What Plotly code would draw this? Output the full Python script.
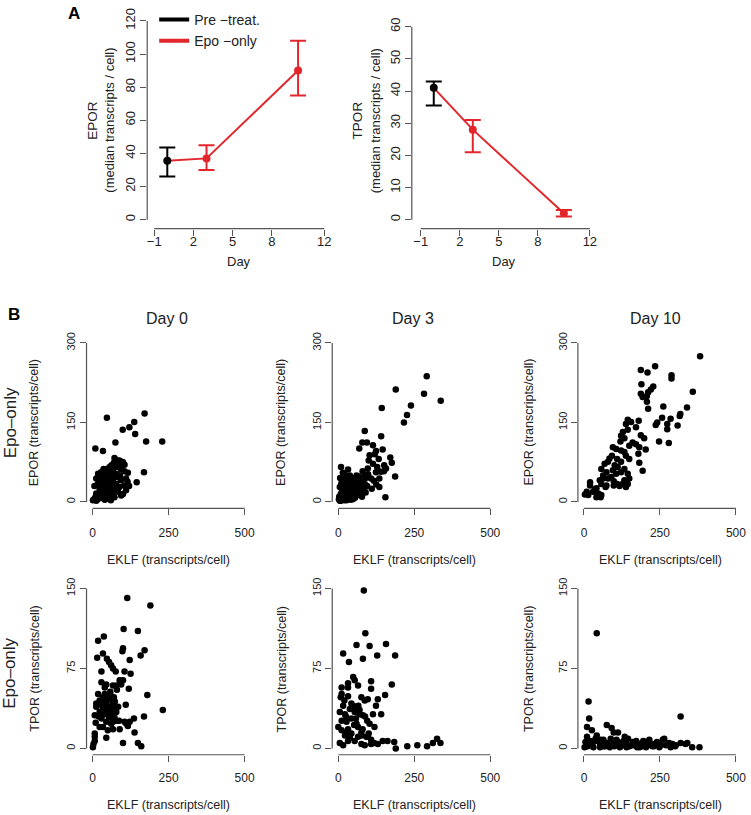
import plotly.graph_objects as go

# ---------------- Panel A data ----------------
days = [0, 3, 10]
tick_days = [-1, 2, 5, 8, 12]
epor_median = [35.5, 37, 90]
epor_low = [26, 30, 75]
epor_high = [43.5, 45, 108]
tpor_median = [41, 28, 2]
tpor_low = [35.5, 21, 1]
tpor_high = [43, 31, 3]
epor_ticks = [0, 20, 40, 60, 80, 100, 120]
tpor_ticks = [0, 10, 20, 30, 40, 50, 60]
legend_names = ["Pre \u2212treat.", "Epo \u2212only"]

# ---------------- Panel B data ----------------
day_titles = ["Day 0", "Day 3", "Day 10"]
eklf_ticks = [0, 250, 500]
epor_cell_ticks = [0, 150, 300]
tpor_cell_ticks = [0, 75, 150]

d0_eklf_epor = [47, 171, 137, 121, 99, 140, 75, 176, 229, 9, 34, 169, 145,
                72, 78, 88, 96, 100, 84, 70, 62, 92, 105, 78, 56, 48, 94, 40, 66, 105, 28, 18, 50,
                78, 116, 60, 34, 23, 83, 45, 110, 12, 66, 93, 28, 55, 17, 77, 104, 40, 6, 88, 50,
                23, 66, 110, 34, 83, 12, 55, 45, 23, 72, 94, 6, 28, 50, 17, 40, 1, 60, 100, 12,
                35, 58, 42, 52, 30, 62, 70, 48, 38, 25, 65, 80, 90, 115, 120, 10, 20, 58, 44, 36]
d0_epor = [159, 167, 151, 141, 136, 128, 112, 114, 114, 101, 96, 56, 37,
           83, 79, 78, 76, 75, 72, 74, 69, 69, 70, 66, 66, 62, 61, 59, 59, 58, 56, 53, 53,
           53, 55, 50, 49, 47, 47, 44, 44, 44, 41, 41, 37, 36, 34, 34, 31, 28, 30, 28, 25,
           25, 22, 22, 19, 19, 16, 14, 12, 9, 9, 12, 6, 8, 6, 5, 4, 3, 3, 15, 2,
           42, 45, 52, 40, 30, 32, 45, 20, 14, 18, 12, 25, 50, 38, 30, 10, 40, 58, 34, 62]

d3_eklf_epor = [291, 189, 282, 337, 143, 239, 226, 216, 87, 79, 94, 69, 141, 114, 146, 124, 171, 176,
                187, 155, 9, 32, 151, 157, 103, 133, 114, 97, 124, 135, 108, 87, 135, 60, 43, 76,
                120, 100, 128, 140, 117, 98, 110, 125, 150, 80, 90, 70, 65, 55,
                5, 10, 3, 15, 20, 8, 25, 12, 30, 18, 35, 5, 40, 22, 28, 45, 10, 38, 50, 15,
                32, 55, 42, 60, 6, 25, 48, 65, 70, 20, 38, 52, 75, 58, 80, 30, 12, 45, 62, 85,
                2, 8, 16, 27, 36, 48, 55, 68, 72, 90, 95, 50, 40, 25, 18, 33, 60, 78, 88, 15]
d3_epor = [237, 212, 204, 191, 177, 182, 164, 150, 134, 112, 112, 101, 124, 107, 99, 96, 84, 74,
           48, 9, 66, 61, 69, 63, 88, 81, 72, 63, 56, 44, 44, 34, 28, 50, 44, 31,
           90, 78, 66, 57, 40, 52, 25, 33, 58, 58, 45, 42, 36, 30,
           2, 5, 10, 8, 3, 15, 12, 20, 6, 25, 15, 28, 4, 32, 20, 10, 35, 25, 18, 40,
           36, 8, 30, 22, 45, 45, 38, 15, 28, 52, 50, 45, 20, 35, 40, 28, 10, 22, 30, 25,
           5, 2, 12, 3, 8, 5, 40, 48, 35, 18, 30, 28, 40, 36, 18, 42, 12, 10, 50, 55]

d10_eklf_epor = [382, 234, 187, 209, 288, 288, 189, 228, 220, 211, 187, 207, 358, 193, 207, 211, 339,
                 317, 315, 261, 285, 257, 241, 236, 274, 274, 308, 180, 144, 155, 138, 171, 128, 144,
                 247, 279, 187, 198, 122, 160, 171, 149, 182, 203, 133, 120, 95, 106, 122, 133,
                 84, 92, 79, 109, 122, 138, 149, 179, 182, 193, 57, 68, 74, 63,
                 101, 111, 95, 106, 90, 122, 133, 144, 149, 133, 79, 98, 109, 98, 117, 138, 127, 144,
                 52, 57, 74, 71, 63, 20, 20, 41, 36, 30, 47, 41, 52, 9, 14, 3, 57, 55]
d10_epor = [275, 256, 249, 244, 239, 233, 222, 218, 212, 207, 204, 200, 208, 198, 189, 176, 178,
            166, 162, 180, 157, 159, 150, 145, 147, 137, 144, 153, 155, 151, 147, 141, 132, 136,
            114, 111, 126, 120, 125, 112, 109, 106, 103, 99, 120, 114, 103, 100, 97, 94,
            82, 87, 76, 81, 76, 87, 81, 91, 74, 59, 62, 72, 56, 50,
            69, 66, 60, 53, 47, 56, 62, 53, 44, 41, 44, 39, 34, 31, 30, 28, 34, 34,
            41, 34, 31, 28, 44, 37, 31, 26, 24, 19, 16, 9, 13, 19, 13, 14, 13, 9]

d0_eklf_tpor = [114, 190, 102, 149, 18, 37, 100, 98, 171, 158, 34, 15, 47, 54, 122, 61, 67, 76, 29,
                105, 125, 100, 89, 29, 45, 67, 78, 40, 119, 94, 18, 40, 58, 34, 23, 56, 12, 28, 45,
                67, 73, 109, 180, 12, 34, 50, 67, 84, 23, 40, 61, 78, 7, 54, 72, 231, 29, 45, 87,
                10, 61, 111, 122, 169, 136, 34, 50, 89, 67, 116, 138, 7, 45, 100, 149, 160, 7, 3, 7,
                1, 23, 67, 78, 105, 55, 38, 48, 62, 30, 20, 52, 70, 42, 58, 80]
d0_tpor = [141, 134, 112, 110, 101, 105, 94, 91, 92, 87, 89, 85, 84, 81, 83, 78, 75, 72, 72,
           72, 70, 64, 64, 62, 60, 59, 59, 57, 56, 60, 51, 51, 51, 48, 45, 46, 42, 41, 43,
           42, 44, 41, 50, 39, 37, 35, 37, 39, 34, 32, 32, 34, 31, 29, 29, 36, 28, 25, 26,
           24, 23, 23, 25, 30, 28, 20, 17, 18, 18, 21, 15, 14, 10, 5, 5, 2, 11, 4, 7,
           1, 20, 25, 26, 25, 38, 44, 40, 36, 33, 30, 47, 48, 46, 53, 55]

d3_eklf_tpor = [84, 89, 16, 35, 60, 81, 103, 128, 157, 187, 49, 54, 32, 11, 32, 65, 108, 108, 176, 154,
                11, 32, 76, 97, 87, 130, 124, 141, 49, 16, 5, 22, 38, 65, 70, 54, 81, 114, 11, 27,
                43, 65, 0, 11, 32, 103, 119, 92, 76, 108, 5, 16, 76, 87, 108, 130, 146, 162, 184, 189,
                227, 260, 292, 311, 325, 336, 54, 65, 97, 32, 76, 43, 22, 60, 43,
                20, 45, 58, 70, 88, 95, 28, 38, 52, 66, 80, 100, 118, 8, 25]
d3_tpor = [148, 108, 89, 81, 97, 84, 96, 87, 98, 87, 67, 64, 57, 57, 61, 59, 63, 56, 60, 50,
           51, 49, 48, 46, 45, 46, 40, 32, 40, 40, 34, 32, 37, 37, 32, 34, 31, 32, 26, 25,
           28, 20, 20, 17, 18, 23, 20, 11, 12, 8, 5, 3, 4, 3, 4, 4, 7, 7, 6, 0,
           2, 3, 2, 5, 9, 5, 7, 11, 11, 7, 15, 14, 12, 23, 42,
           45, 38, 28, 36, 30, 26, 15, 10, 22, 40, 18, 14, 5, 48, 30]

d10_eklf_tpor = [42, 15, 17, 10, 26, 75, 91, 98, 112, 134, 42, 10, 318,
                 21, 31, 53, 75, 96, 118, 140, 161, 183, 204, 226, 248, 259, 280, 302, 318, 340, 356, 380,
                 248, 204, 140, 85, 31, 15, 64, 107, 172, 264, 291, 334, 53, 118, 183, 253,
                 45, 60, 70, 80, 100, 110, 125, 130, 150, 160, 170, 190, 195, 210, 215, 230, 240, 270,
                 12, 5, 38, 55, 88, 145, 165, 135, 2, 65, 175, 225, 285, 300]
d10_tpor = [108, 44, 28, 20, 17, 22, 19, 15, 15, 11, 12, 11, 30,
            7, 6, 4, 5, 4, 5, 4, 3, 4, 6, 4, 4, 8, 5, 3, 5, 5, 1, 1,
            1, 1, 1, 1, 1, 3, 8, 8, 7, 9, 4, 4, 1, 1, 1, 3,
            7, 6, 2, 3, 2, 6, 3, 7, 2, 6, 3, 2, 7, 3, 8, 2, 6, 3,
            2, 6, 9, 8, 9, 9, 5, 3, 1, 2, 1, 2, 1, 2]

# ---------------- styling ----------------
W, H = 751, 815
FONT = "Liberation Sans, Arial, Helvetica, sans-serif"
RED = "#E2262C"
AXC = "#555555"
TXT = "#222222"


def pxx(p):
    return p / W


def pxy(p):
    return 1 - p / H


fig = go.Figure()

# ---------------- Panel A traces ----------------
for ax, med, lo, hi in [("", epor_median, epor_low, epor_high),
                        ("2", tpor_median, tpor_low, tpor_high)]:
    xa, ya = "x" + ax, "y" + ax
    fig.add_trace(go.Scatter(x=days, y=med, mode="lines", line=dict(color=RED, width=2),
                             xaxis=xa, yaxis=ya, showlegend=False, hoverinfo="skip"))
    fig.add_trace(go.Scatter(
        x=days[1:], y=med[1:], mode="markers", marker=dict(color=RED, size=8),
        error_y=dict(type="data", symmetric=False,
                     array=[h - m for h, m in zip(hi[1:], med[1:])],
                     arrayminus=[m - l for m, l in zip(med[1:], lo[1:])],
                     color=RED, thickness=2, width=8),
        xaxis=xa, yaxis=ya, showlegend=False))
    fig.add_trace(go.Scatter(
        x=days[:1], y=med[:1], mode="markers", marker=dict(color="black", size=8),
        error_y=dict(type="data", symmetric=False,
                     array=[hi[0] - med[0]], arrayminus=[med[0] - lo[0]],
                     color="black", thickness=2, width=8),
        xaxis=xa, yaxis=ya, showlegend=False))

# legend entries
for name, col in zip(legend_names, ["black", RED]):
    fig.add_trace(go.Scatter(x=[None], y=[None], mode="lines", line=dict(color=col, width=4),
                             name=name, xaxis="x", yaxis="y", showlegend=True))

# ---------------- Panel B traces ----------------
scatter_sets = [
    (3, d0_eklf_epor, d0_epor), (4, d3_eklf_epor, d3_epor), (5, d10_eklf_epor, d10_epor),
    (6, d0_eklf_tpor, d0_tpor), (7, d3_eklf_tpor, d3_tpor), (8, d10_eklf_tpor, d10_tpor),
]
for i, xs, ys in scatter_sets:
    fig.add_trace(go.Scatter(x=xs, y=ys, mode="markers",
                             marker=dict(color="black", size=6.5, line=dict(width=0)),
                             xaxis="x%d" % i, yaxis="y%d" % i, showlegend=False))

# ---------------- axes ----------------
layout_axes = {}
shapes = []


def make_axes(i, xdom, ydom, xrange, yrange, xticks, yticks, xfs, yfs, xstand, ystand):
    sx = "" if i == 1 else str(i)
    layout_axes["xaxis" + sx] = dict(
        domain=[pxx(xdom[0]), pxx(xdom[1])], range=xrange, anchor="y" + sx,
        tickmode="array", tickvals=xticks, ticktext=[("\u2212%d" % -t) if t < 0 else str(t) for t in xticks],
        ticks="outside", ticklen=6, tickwidth=1, tickcolor=AXC, ticklabelstandoff=xstand,
        showline=False, showgrid=False, zeroline=False, fixedrange=True,
        tickfont=dict(family=FONT, size=xfs, color=TXT))
    layout_axes["yaxis" + sx] = dict(
        domain=[pxy(ydom[1]), pxy(ydom[0])], range=yrange, anchor="x" + sx,
        tickmode="array", tickvals=yticks, ticktext=[str(t) for t in yticks],
        ticks="outside", ticklen=6, tickwidth=1, tickcolor=AXC, tickangle=-90,
        ticklabelstandoff=ystand,
        showline=False, showgrid=False, zeroline=False, fixedrange=True,
        tickfont=dict(family=FONT, size=yfs, color=TXT))
    xr, yr = "x" + sx, "y" + sx
    shapes.append(dict(type="line", xref=xr, yref=yr + " domain", x0=xticks[0], x1=xticks[-1],
                       y0=0, y1=0, line=dict(color=AXC, width=1.2)))
    shapes.append(dict(type="line", xref=xr + " domain", yref=yr, x0=0, x1=0,
                       y0=yticks[0], y1=yticks[-1], line=dict(color=AXC, width=1.2)))


make_axes(1, (148, 333), (8, 225), [-1.535, 12.535], [-5.4, 124.8], tick_days, epor_ticks, 13, 13, -5, 0)
make_axes(2, (414, 601), (8, 225), [-1.688, 12.61], [-2.78, 64.3], tick_days, tpor_ticks, 13, 13, -5, 0)
bx = [(87, 252), (334, 499), (581, 746)]
for c in range(3):
    make_axes(3 + c, bx[c], (333.6, 506.4), [-20, 520], [-12, 312], eklf_ticks, epor_cell_ticks, 12, 11, 7, 0)
    make_axes(6 + c, bx[c], (580.6, 754.4), [-20, 520], [-6, 156], eklf_ticks, tpor_cell_ticks, 12, 11, 6, 0)

# ---------------- annotations ----------------
ann = []


def text(x, y, s, size, angle=0, bold=False):
    ann.append(dict(x=pxx(x), y=pxy(y), xref="paper", yref="paper", text=("<b>%s</b>" % s) if bold else s,
                    showarrow=False, xanchor="center", yanchor="middle", textangle=angle,
                    font=dict(family=FONT, size=size, color=TXT if not bold else "black")))


text(74, 9, "A", 17, bold=True)
text(14, 311, "B", 17, bold=True)
text(240, 258, "Day", 13)
text(507, 258, "Day", 13)
text(93, 116, "EPOR", 13.5, -90)
text(110, 116, "(median transcripts / cell)", 13, -90)
text(359, 116, "TPOR", 13.5, -90)
text(377, 116, "(median transcripts / cell)", 13, -90)

title_x = [168, 415, 659]
ytitle_x = [35, 283, 532]
xtitle_x = [169, 417, 664]
for c in range(3):
    text(title_x[c], 315, day_titles[c], 16)
    text(ytitle_x[c], 420, "EPOR (transcripts/cell)", 12.5, -90)
    text(ytitle_x[c], 668, "TPOR (transcripts/cell)", 12.5, -90)
    text(xtitle_x[c], 558, "EKLF (transcripts/cell)", 12.5)
    text(xtitle_x[c], 805, "EKLF (transcripts/cell)", 12.5)
text(10, 420, "Epo\u2013only", 17, -90)
text(10, 672, "Epo\u2013only", 17, -90)

fig.update_layout(
    width=W, height=H, autosize=False,
    margin=dict(l=0, r=0, t=0, b=0),
    paper_bgcolor="white", plot_bgcolor="white",
    font=dict(family=FONT, color=TXT),
    showlegend=True,
    legend=dict(x=pxx(155), y=pxy(-1), xanchor="left", yanchor="top",
                font=dict(family=FONT, size=14, color=TXT),
                bgcolor="rgba(0,0,0,0)", borderwidth=0, tracegroupgap=0,
                itemwidth=30, traceorder="normal"),
    shapes=shapes, annotations=ann,
    **layout_axes)

fig.write_html("out.html", config={"displayModeBar": False},
               post_script="document.body.style.margin='0';document.body.style.overflow='hidden';")
